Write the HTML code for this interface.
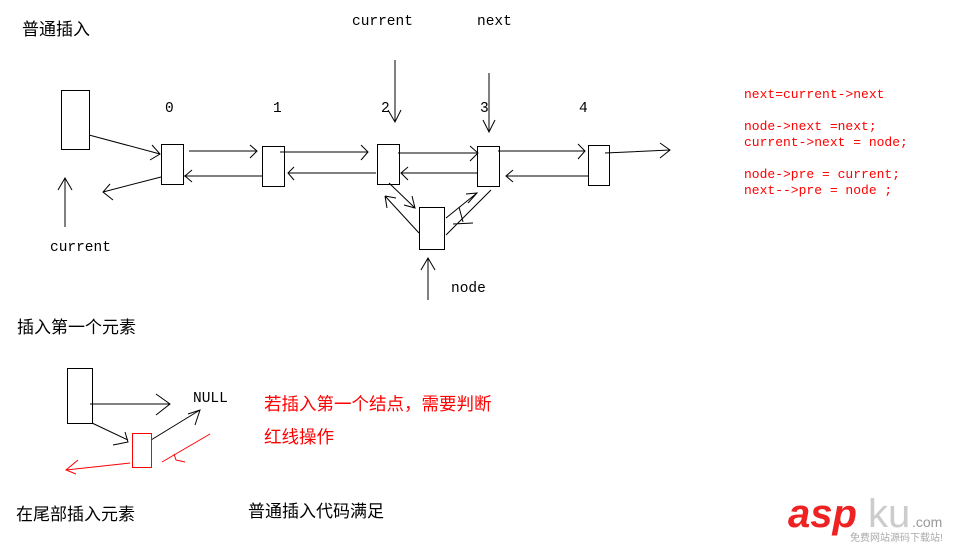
<!DOCTYPE html>
<html><head><meta charset="utf-8"><style>
html,body{margin:0;padding:0;background:#fff;}
svg{display:block}
.t{font-family:"Liberation Mono",monospace;font-size:14.5px;fill:#000}
.c{font-family:"Liberation Sans","Noto Sans CJK SC",sans-serif;font-size:17px;fill:#000}
.r{font-family:"Liberation Mono",monospace;font-size:13px;fill:#f00}
.rc{font-family:"Liberation Sans","Noto Sans CJK SC",sans-serif;font-size:17.5px;fill:#f00}
</style></head><body>
<svg width="960" height="547" viewBox="0 0 960 547" xmlns="http://www.w3.org/2000/svg">
<g stroke="#000" stroke-width="1" fill="none">
<rect x="61.5" y="90.5" width="28" height="59" fill="#fff"/>
<rect x="161.5" y="144.5" width="22" height="40"/>
<rect x="262.5" y="146.5" width="22" height="40"/>
<rect x="377.5" y="144.5" width="22" height="40"/>
<rect x="477.5" y="146.5" width="22" height="40"/>
<rect x="588.5" y="145.5" width="21" height="40"/>
<rect x="419.5" y="207.5" width="25" height="42"/>
<path d="M89 135 L160 154 M152 145 L160 154 L150 160"/>
<path d="M189 151 H257 M250 145 L257 151 L250 158"/>
<path d="M184 176 H263 M192 170 L185 176 L192 182"/>
<path d="M280 152 H368 M361 145 L368 152 L361 160"/>
<path d="M288 173 H376 M294 167 L288 173 L294 180"/>
<path d="M398 153 H478 M470 146 L478 153 L470 161"/>
<path d="M401 173 H478 M408 167 L401 173 L408 180"/>
<path d="M498 151 H585 M578 144 L585 151 L578 159"/>
<path d="M506 176 H588 M513 170 L506 176 L513 182"/>
<path d="M605 153 L670 150 M660 143 L670 150 L660 158"/>
<path d="M161 177 L103 192 M110 184 L103 192 L113 200"/>
<path d="M395 60 V122 M388 110 L395 122 L401 110"/>
<path d="M489 73 V132 M483 120 L489 132 L495 120"/>
<path d="M65 227 V178 M58 190 L65 178 L72 190"/>
<path d="M428 300 V258 M421 270 L428 258 L435 270"/>
<path d="M419 233 L385 196 M385 196 L387 208 M385 196 L396 198"/>
<path d="M389 183 L415 208 M404 205 L415 208 L412 196"/>
<path d="M446 218 L477 193 M466 194 L477 193 L468 203"/>
<path d="M446 235 L491 190 M459 207 L463 222 M453 224 L473 223"/>
<rect x="67.5" y="368.5" width="25" height="55"/>
<path d="M90 404 H170 M156 394 L170 404 L156 415"/>
<path d="M92 423 L128 440 M125 432 L128 442 L113 445"/>
<path d="M151 440 L200 410 M188 414 L200 410 L195 425"/>
</g>
<g stroke="#f00" stroke-width="1" fill="none">
<rect x="132.5" y="433.5" width="19" height="34"/>
<path d="M130 463 L66 470 M78 460 L66 470 L76 474"/>
<path d="M210 434 L162 462 M174 454 L176 460 L185 462"/>
</g>
<text class="c" x="22" y="35">普通插入</text>
<text class="t" x="352" y="25">current</text>
<text class="t" x="477" y="25">next</text>
<text class="t" x="165" y="112">0</text>
<text class="t" x="273" y="112">1</text>
<text class="t" x="381" y="112">2</text>
<text class="t" x="480" y="112">3</text>
<text class="t" x="579" y="112">4</text>
<text class="t" x="50" y="251">current</text>
<text class="t" x="451" y="292">node</text>
<text class="r" x="744" y="98">next=current-&gt;next</text>
<text class="r" x="744" y="130">node-&gt;next =next;</text>
<text class="r" x="744" y="146">current-&gt;next = node;</text>
<text class="r" x="744" y="178">node-&gt;pre = current;</text>
<text class="r" x="744" y="194">next--&gt;pre = node ;</text>
<text class="c" x="17" y="333">插入第一个元素</text>
<text class="t" x="193" y="402">NULL</text>
<text class="rc" x="264" y="410">若插入第一个结点，需要判断</text>
<text class="rc" x="264" y="443">红线操作</text>
<text class="c" x="16" y="520">在尾部插入元素</text>
<text class="c" x="248" y="517">普通插入代码满足</text>
<text x="788" y="527" style="font-family:'Liberation Sans',sans-serif;font-size:40px;font-weight:bold;font-style:italic;fill:#e22">asp</text>
<text x="868" y="527" style="font-family:'Liberation Sans',sans-serif;font-size:40px;fill:#ccc">ku</text>
<text x="912" y="527" style="font-family:'Liberation Sans',sans-serif;font-size:14px;fill:#999">.com</text>
<text x="850" y="541" style="font-family:'Liberation Sans','Noto Sans CJK SC',sans-serif;font-size:10px;fill:#aaa">免费网站源码下载站!</text>
</svg>
</body></html>
